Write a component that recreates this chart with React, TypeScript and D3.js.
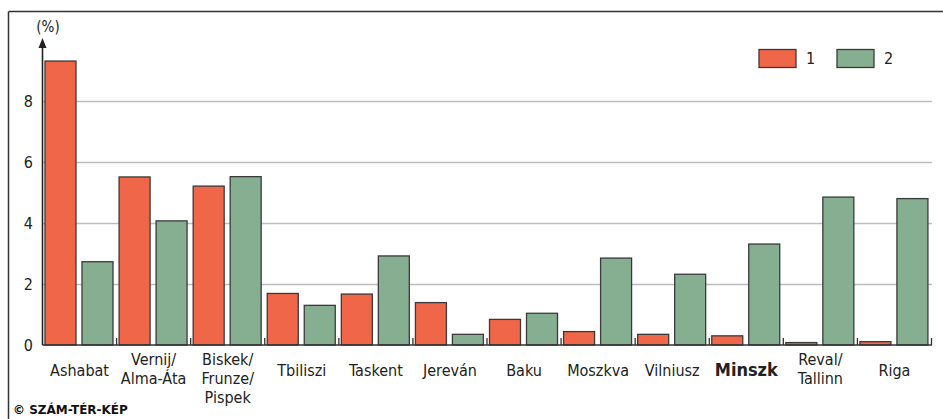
import { useRef, useEffect } from "react";
import { select, scaleLinear, scaleBand } from "d3";

const cities = [
  "Ashabat",
  "Vernij/\nAlma-Áta",
  "Biskek/\nFrunze/\nPispek",
  "Tbiliszi",
  "Taskent",
  "Jereván",
  "Baku",
  "Moszkva",
  "Vilniusz",
  "Minszk",
  "Reval/\nTallinn",
  "Riga",
];
const series1 = [9.31, 5.51, 5.21, 1.69, 1.67, 1.39, 0.84, 0.44, 0.35, 0.3, 0.08, 0.11];
const series2 = [2.73, 4.07, 5.52, 1.3, 2.92, 0.35, 1.04, 2.85, 2.32, 3.31, 4.85, 4.8];
const seriesNames = ["1", "2"];
const yTicks = [0, 2, 4, 6, 8];
const boldCity = "Minszk";

const W = 943;
const H = 419;
const FONT = "'Liberation Sans Narrow', 'DejaVu Sans Condensed', 'Liberation Sans', sans-serif";
const RED = "#f06648";
const GREEN = "#86af91";

export default function App() {
  const svgRef = useRef<SVGSVGElement>(null);

  useEffect(() => {
    const svg = select(svgRef.current);
    svg.selectAll("*").remove();

    const x0 = 42.5;
    const yBase = 345;
    const x = scaleBand<string>().domain(cities).range([x0, 931.5]).padding(0);
    const xSub = scaleBand<string>()
      .domain(seriesNames)
      .range([2.5, 70.5])
      .paddingInner(6 / 37)
      .paddingOuter(0);
    const y = scaleLinear().domain([0, 8]).range([yBase, 101]);

    // frame
    svg.append("line").attr("x1", 8.5).attr("x2", W).attr("y1", 11.5).attr("y2", 11.5)
      .attr("stroke", "#333").attr("stroke-width", 1.5);
    svg.append("line").attr("x1", 8.5).attr("x2", 8.5).attr("y1", 11.5).attr("y2", H)
      .attr("stroke", "#333").attr("stroke-width", 1.5);

    // grid
    svg.selectAll(".grid")
      .data(yTicks.filter((t) => t > 0))
      .join("line")
      .attr("x1", x0).attr("x2", 932)
      .attr("y1", (d) => Math.round(y(d)) + 0.5)
      .attr("y2", (d) => Math.round(y(d)) + 0.5)
      .attr("stroke", "#bdbdbd").attr("stroke-width", 1.5);

    // y tick labels
    svg.selectAll(".ylab")
      .data(yTicks)
      .join("text")
      .attr("x", 33).attr("y", (d) => y(d))
      .attr("dy", "0.35em")
      .attr("text-anchor", "end")
      .attr("font-family", FONT).attr("font-size", 16).attr("fill", "#222")
      .text((d) => d);

    // bars
    const groups = svg.selectAll(".grp")
      .data(cities)
      .join("g")
      .attr("transform", (d) => `translate(${x(d)},0)`);
    groups.selectAll("rect")
      .data((d, i) => [series1[i], series2[i]].map((v, k) => ({ v, k })))
      .join("rect")
      .attr("x", (d) => xSub(seriesNames[d.k])!)
      .attr("width", xSub.bandwidth())
      .attr("y", (d) => y(d.v))
      .attr("height", (d) => yBase - y(d.v))
      .attr("fill", (d) => (d.k === 0 ? RED : GREEN))
      .attr("stroke", "#3a3a3a").attr("stroke-width", 1.3);

    // baseline + group ticks
    svg.append("line").attr("x1", x0).attr("x2", 932).attr("y1", yBase).attr("y2", yBase)
      .attr("stroke", "#333").attr("stroke-width", 1.6);
    svg.selectAll(".gtick")
      .data(cities)
      .join("line")
      .attr("x1", (d) => x(d)! + x.bandwidth())
      .attr("x2", (d) => x(d)! + x.bandwidth())
      .attr("y1", yBase).attr("y2", yBase - 7)
      .attr("stroke", "#333").attr("stroke-width", 1.3);

    // y axis with arrow
    svg.append("line").attr("x1", x0).attr("x2", x0).attr("y1", yBase).attr("y2", 45)
      .attr("stroke", "#222").attr("stroke-width", 1.6);
    svg.append("path")
      .attr("d", `M${x0},38 L${x0 - 4},48 L${x0 + 4},48 Z`)
      .attr("fill", "#222");
    svg.append("text").attr("x", 48).attr("y", 27).attr("dy", "0.35em")
      .attr("text-anchor", "middle")
      .attr("font-family", FONT).attr("font-size", 15).attr("fill", "#222")
      .text("(%)");

    // category labels
    groups.each(function (d) {
      const lines = d.split("\n");
      const t = select(this).append("text")
        .attr("text-anchor", "middle")
        .attr("font-family", FONT)
        .attr("font-size", d === boldCity ? 18 : 16)
        .attr("font-weight", d === boldCity ? "bold" : "normal")
        .attr("fill", "#222");
      lines.forEach((ln, i) => {
        t.append("tspan")
          .attr("x", x.bandwidth() / 2)
          .attr("y", (lines.length === 1 ? 370 : 359) + i * 19)
          .attr("dy", "0.35em")
          .text(ln);
      });
    });

    // legend
    const legX = [759, 837];
    seriesNames.forEach((s, i) => {
      svg.append("rect").attr("x", legX[i]).attr("y", 49.5).attr("width", 37).attr("height", 18)
        .attr("fill", i === 0 ? RED : GREEN).attr("stroke", "#3a3a3a").attr("stroke-width", 1.3);
      svg.append("text").attr("x", legX[i] + 47).attr("y", 58.5).attr("dy", "0.35em")
        .attr("font-family", FONT).attr("font-size", 16).attr("fill", "#222")
        .text(s);
    });

    // credit
    svg.append("text").attr("x", 13).attr("y", 410).attr("dy", "0.35em")
      .attr("font-family", "'DejaVu Sans', sans-serif").attr("font-size", 12)
      .attr("font-weight", "bold").attr("fill", "#111")
      .text("© SZÁM-TÉR-KÉP");
  }, []);

  return (
    <svg
      ref={svgRef}
      width={W}
      height={H}
      style={{ position: "absolute", left: 0, top: 0, background: "#fff" }}
    />
  );
}
